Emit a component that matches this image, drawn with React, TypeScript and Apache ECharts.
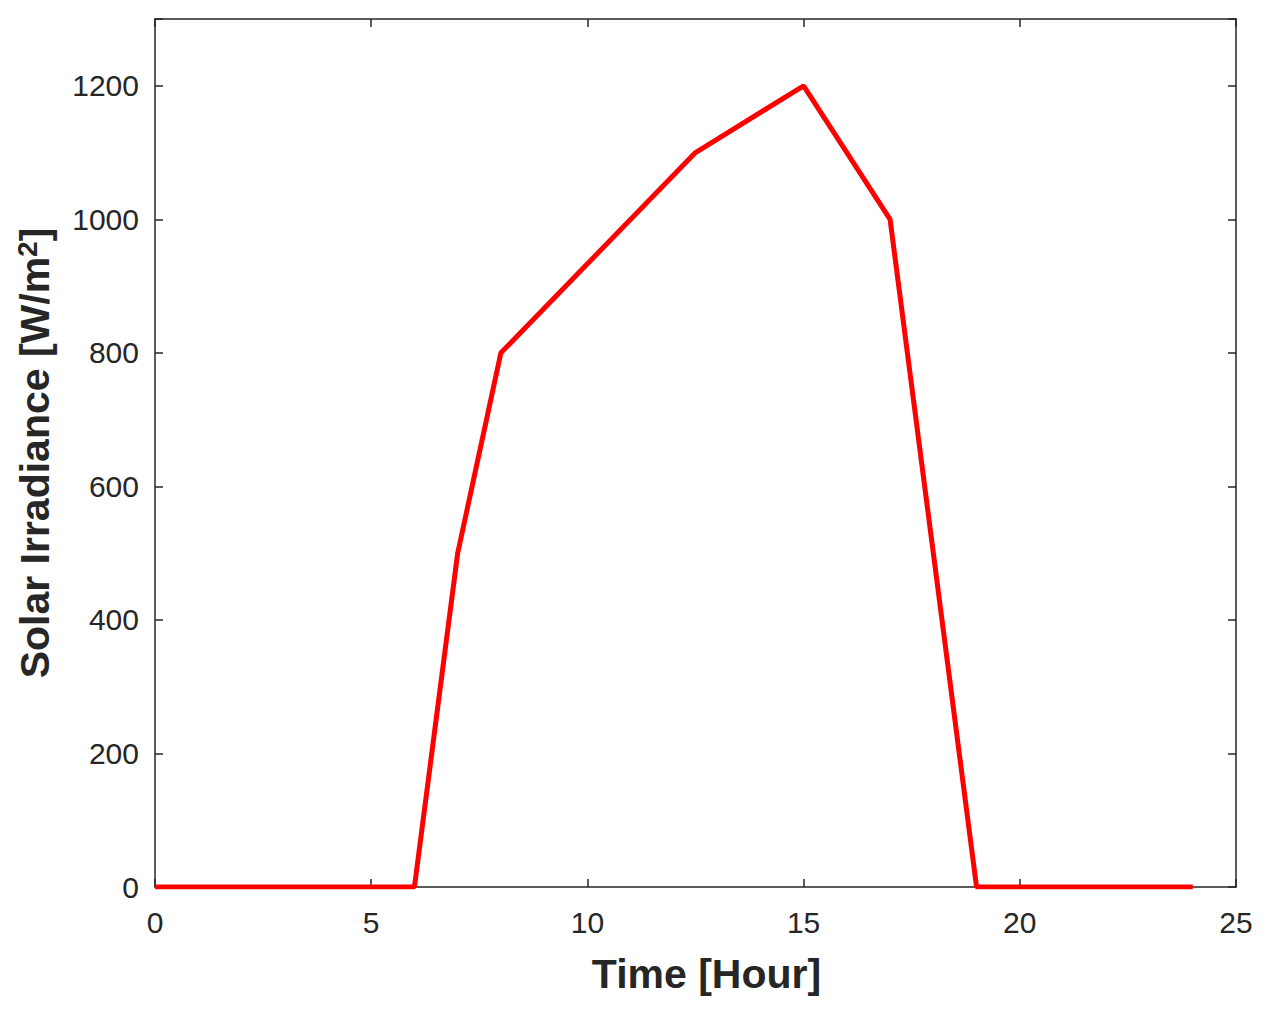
import React, { useEffect, useRef } from "react";
import * as echarts from "echarts";

const hours = [0, 6, 7, 8, 12.5, 15, 17, 19, 24];
const irradiance = [0, 0, 500, 800, 1100, 1200, 1000, 0, 0];
const xTicks = [0, 5, 10, 15, 20, 25];
const yTicks = [0, 200, 400, 600, 800, 1000, 1200];

const axisColor = "#262626";
const font = "'Liberation Sans', Arial, Helvetica, sans-serif";

export default function App() {
  const ref = useRef<HTMLDivElement>(null);
  useEffect(() => {
    if (!ref.current) return;
    const chart = echarts.init(ref.current, undefined, { renderer: "svg" });
    const common = {
      axisLine: { show: true, onZero: false, lineStyle: { color: axisColor, width: 1.5 } },
      axisTick: { show: true, inside: true, length: 8, lineStyle: { color: axisColor, width: 1.5 } },
      splitLine: { show: false },
    };
    chart.setOption({
      animation: false,
      backgroundColor: "#ffffff",
      grid: { left: 155, top: 19, right: 46, bottom: 124, containLabel: false },
      xAxis: [
        {
          type: "value",
          min: xTicks[0],
          max: xTicks[xTicks.length - 1],
          interval: 5,
          position: "bottom",
          ...common,
          axisLabel: { color: axisColor, fontSize: 30, fontFamily: font, margin: 20 },
          name: "Time [Hour]",
          nameLocation: "middle",
          nameGap: 66,
          nameTextStyle: {
            color: axisColor,
            fontSize: 41,
            fontWeight: "bold",
            fontFamily: font,
            padding: [0, 0, 0, 22],
          },
        },
        {
          type: "value",
          min: xTicks[0],
          max: xTicks[xTicks.length - 1],
          interval: 5,
          position: "top",
          ...common,
          axisLabel: { show: false },
        },
      ],
      yAxis: [
        {
          type: "value",
          min: 0,
          max: 1300,
          interval: 200,
          position: "left",
          ...common,
          axisLabel: {
            color: axisColor,
            fontSize: 30,
            fontFamily: font,
            margin: 16,
            formatter: (v: number) => (yTicks.includes(v) ? String(v) : ""),
          },
          name: "{a|Solar Irradiance [W/m}{s|2}{a|]}",
          nameLocation: "middle",
          nameGap: 98,
          nameRotate: 90,
          nameTextStyle: {
            color: axisColor,
            fontSize: 41,
            fontWeight: "bold",
            fontFamily: font,
            rich: {
              a: { fontSize: 41, fontWeight: "bold", fontFamily: font, color: axisColor },
              s: { fontSize: 28, fontWeight: "bold", fontFamily: font, color: axisColor, verticalAlign: "top", padding: [0, 0, 16, 0] },
            },
          },
        },
        {
          type: "value",
          min: 0,
          max: 1300,
          interval: 200,
          position: "right",
          ...common,
          axisLabel: { show: false },
        },
      ],
      series: [
        {
          type: "line",
          xAxisIndex: 0,
          yAxisIndex: 0,
          data: hours.map((h, i) => [h, irradiance[i]]),
          symbol: "none",
          lineStyle: { color: "#ff0000", width: 5 },
          itemStyle: { color: "#ff0000" },
          z: 1,
        },
      ],
    });
    return () => chart.dispose();
  }, []);
  return (
    <div
      ref={ref}
      style={{ position: "absolute", left: 0, top: 0, width: 1282, height: 1011 }}
    />
  );
}
